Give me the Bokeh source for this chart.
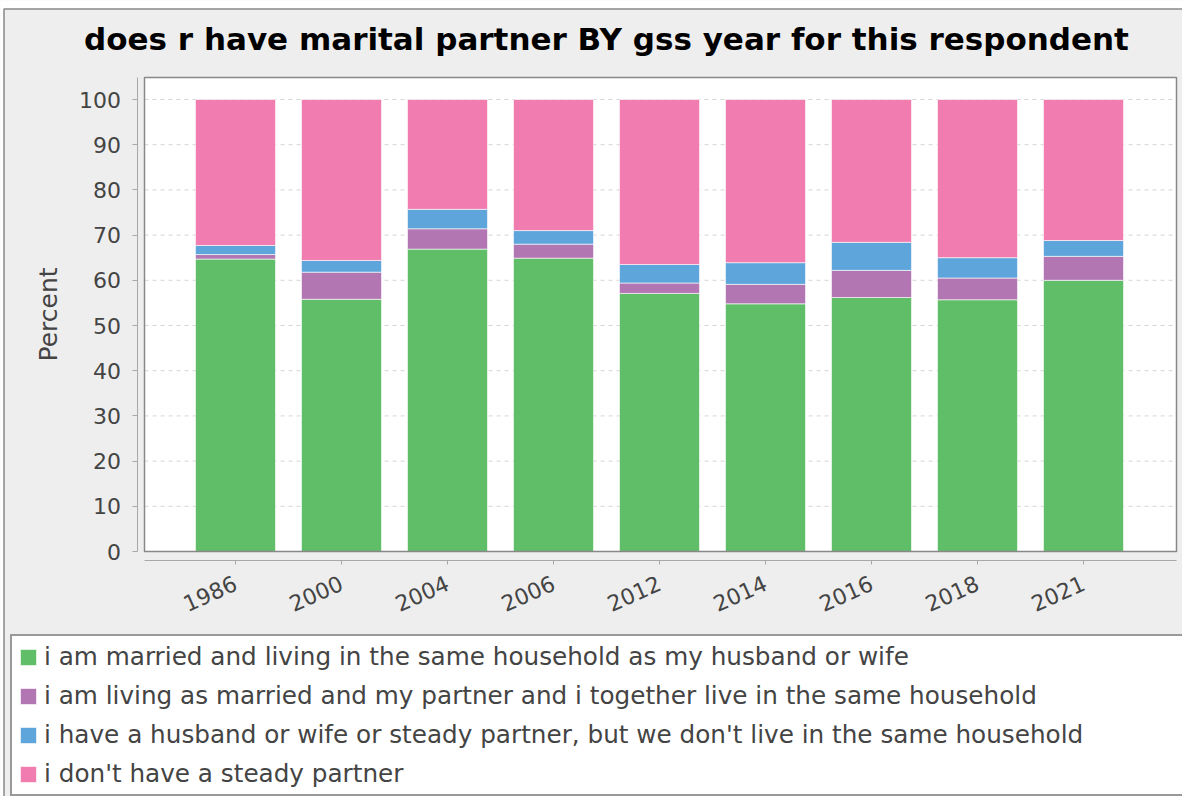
from bokeh.plotting import figure
from bokeh.models import Range1d, FixedTicker, Legend, LegendItem, LinearAxis, Label
from bokeh.embed import file_html
from bokeh.resources import INLINE

# ---- data ----
years = ["1986", "2000", "2004", "2006", "2012", "2014", "2016", "2018", "2021"]
married = [64.7, 55.8, 66.9, 64.9, 57.1, 54.8, 56.2, 55.7, 60.0]
living_as_married = [1.0, 6.0, 4.5, 3.1, 2.3, 4.3, 6.0, 4.8, 5.3]
partner_apart = [2.0, 2.6, 4.3, 3.0, 4.1, 4.8, 6.2, 4.5, 3.5]
no_partner = [32.3, 35.6, 24.3, 29.0, 36.5, 36.1, 31.6, 35.0, 31.2]
series_labels = [
    "i am married and living in the same household as my husband or wife",
    "i am living as married and my partner and i together live in the same household",
    "i have a husband or wife or steady partner, but we don't live in the same household",
    "i don't have a steady partner",
]
colors = ["#60BD68", "#B276B2", "#5DA5DA", "#F17CB0"]
y_ticks = list(range(0, 101, 10))
title_text = "does r have marital partner BY gss year for this respondent"

x = list(range(len(years)))
data = dict(x=x, married=married, living=living_as_married,
            apart=partner_apart, none=no_partner)
keys = ["married", "living", "apart", "none"]

BG = "#EEEEEE"
FONT = "DejaVu Sans"
TXT = "#444444"

# ---- canvas-pixel -> data mapping (the frame covers the whole canvas) ----
W, H = 1182, 796
PXX, X0 = 106.0, 235.0     # px per category, px of first category centre
PXY, Y0 = 4.52, 551.0      # px per percent, px of 0 %


def dx(px):
    return (px - X0) / PXX


def dy(py):
    return (Y0 - py) / PXY


p = figure(width=W, height=H, output_backend="svg", toolbar_location=None,
           x_range=Range1d(dx(0), dx(W)), y_range=Range1d(dy(H), dy(0)),
           x_axis_type=None, y_axis_type=None,
           min_border=0, min_border_left=0, min_border_right=0,
           min_border_top=0, min_border_bottom=0)
p.background_fill_color = BG
p.border_fill_color = BG
p.outline_line_color = None

# outer white margin + panel border
p.quad(left=dx(-5), right=dx(W + 5), bottom=dy(8), top=dy(-5),
       fill_color="white", line_color=None)
p.quad(left=dx(-5), right=dx(3), bottom=dy(H + 5), top=dy(-5),
       fill_color="white", line_color=None)
p.quad(left=dx(3.5), right=dx(W + 20), bottom=dy(H + 20), top=dy(8.5),
       fill_color=None, line_color="#8A8A8A", line_width=1.5)

# white plotting area
xa, xb = dx(144), dx(1176)
ya, yb = 0, dy(77)
p.quad(left=xa, right=xb, bottom=ya, top=yb, fill_color="white", line_color=None)

# dashed grid lines
p.segment(x0=xa, x1=xb, y0=y_ticks[1:], y1=y_ticks[1:],
          line_color="#D6D6D6", line_dash="4 4", line_width=1)

# stacked bars
renderers = p.vbar_stack(keys, x="x", width=0.755, source=data, color=colors,
                         line_color="white", line_alpha=0.6, line_width=1)

# plotting-area border
p.quad(left=xa, right=xb, bottom=ya, top=yb, fill_color=None,
       line_color="#888888", line_width=1.5)

# title
p.add_layout(Label(x=dx(606), y=dy(38), text=title_text, text_align="center",
                   text_baseline="alphabetic", text_font=FONT,
                   text_font_size="31px", text_font_style="bold",
                   text_color="black"))

# y axis (offset from plotting area)
yaxis = LinearAxis(fixed_location=dx(136.5))
yaxis.ticker = FixedTicker(ticks=y_ticks)
yaxis.bounds = (0, yb)
yaxis.axis_label = "Percent"
yaxis.axis_label_text_font = FONT
yaxis.axis_label_text_font_size = "25px"
yaxis.axis_label_text_font_style = "normal"
yaxis.axis_label_text_color = TXT
yaxis.axis_label_standoff = 14
yaxis.major_label_text_font = FONT
yaxis.major_label_text_font_size = "22px"
yaxis.major_label_text_color = TXT
yaxis.major_label_standoff = 11
yaxis.axis_line_color = "#A8A8A8"
yaxis.major_tick_line_color = "#A8A8A8"
yaxis.major_tick_in = 0
yaxis.major_tick_out = 5
yaxis.minor_tick_line_color = None
p.add_layout(yaxis, "left")

# x axis (offset below plotting area)
xaxis = LinearAxis(fixed_location=dy(559.5))
xaxis.ticker = FixedTicker(ticks=x)
xaxis.major_label_overrides = {i: yr for i, yr in zip(x, years)}
xaxis.bounds = (xa, xb)
xaxis.major_label_orientation = 0.42
xaxis.major_label_text_font = FONT
xaxis.major_label_text_font_size = "22px"
xaxis.major_label_text_color = TXT
xaxis.major_label_standoff = 18
xaxis.axis_line_color = "#A8A8A8"
xaxis.major_tick_line_color = "#A8A8A8"
xaxis.major_tick_in = 0
xaxis.major_tick_out = 4
xaxis.minor_tick_line_color = None
p.add_layout(xaxis, "below")

# legend
items = [LegendItem(label=lab, renderers=[r]) for lab, r in zip(series_labels, renderers)]
legend = Legend(items=items, location=(10, 0), orientation="vertical",
                padding=6, margin=0, spacing=10, glyph_width=20, glyph_height=20,
                label_height=29, label_width=1140, label_standoff=6,
                label_text_font=FONT, label_text_font_size="24.7px",
                label_text_color=TXT, background_fill_color="white",
                background_fill_alpha=1.0, border_line_color="#333333",
                border_line_width=2)
p.add_layout(legend)

open("out.html", "w").write(file_html(p, INLINE))
